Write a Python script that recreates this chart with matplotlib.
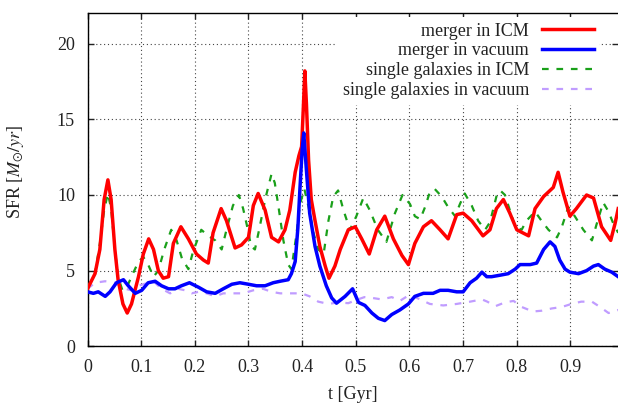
import numpy as np
import matplotlib
matplotlib.use('Agg')
import matplotlib.pyplot as plt

plt.rcParams['font.family'] = ['Liberation Serif', 'DejaVu Serif']
plt.rcParams['mathtext.fontset'] = 'stix'
plt.rcParams['font.size'] = 13

# merger in ICM
t_merger_icm = [0.000, 0.014, 0.023, 0.031, 0.038, 0.044, 0.051, 0.057, 0.066, 0.074,
                0.082, 0.095, 0.104, 0.114, 0.123, 0.132, 0.141, 0.151, 0.160, 0.174,
                0.188, 0.203, 0.216, 0.225, 0.234, 0.249, 0.259, 0.275, 0.287, 0.300,
                0.309, 0.318, 0.331, 0.343, 0.356, 0.368, 0.377, 0.387, 0.394, 0.399,
                0.402, 0.405, 0.408, 0.412, 0.417, 0.424, 0.433, 0.443, 0.450, 0.461,
                0.471, 0.486, 0.499, 0.511, 0.525, 0.539, 0.554, 0.570, 0.586, 0.598,
                0.610, 0.626, 0.641, 0.657, 0.672, 0.688, 0.700, 0.716, 0.737, 0.750,
                0.762, 0.775, 0.787, 0.800, 0.822, 0.834, 0.850, 0.868, 0.877, 0.886,
                0.899, 0.911, 0.930, 0.943, 0.958, 0.975, 0.983, 0.989]
sfr_merger_icm = [3.8, 4.8, 6.4, 9.7, 11.0, 9.7, 6.4, 4.4, 2.8, 2.2,
                  2.8, 4.6, 6.1, 7.1, 6.4, 5.0, 4.5, 4.6, 6.8, 7.9,
                  7.1, 6.1, 5.7, 5.5, 7.5, 9.1, 8.3, 6.5, 6.7, 7.2,
                  9.3, 10.1, 9.0, 7.2, 6.9, 7.7, 9.0, 11.5, 12.6, 13.2,
                  15.6, 18.2, 16.0, 12.3, 9.7, 8.3, 6.6, 5.3, 4.5, 5.3,
                  6.4, 7.7, 7.9, 7.1, 6.1, 7.7, 8.6, 7.1, 6.0, 5.4,
                  6.8, 7.9, 8.3, 7.7, 7.1, 8.7, 8.8, 8.3, 7.3, 7.7,
                  9.1, 9.7, 8.8, 7.7, 7.3, 9.1, 9.9, 10.5, 11.5, 10.2,
                  8.6, 9.1, 10.0, 9.8, 7.9, 7.0, 8.1, 9.1]

# merger in vacuum
t_merger_vac = [0.000, 0.011, 0.020, 0.033, 0.042, 0.054, 0.067, 0.076, 0.089, 0.101,
                0.113, 0.126, 0.138, 0.151, 0.163, 0.175, 0.190, 0.207, 0.222, 0.238,
                0.253, 0.269, 0.284, 0.300, 0.315, 0.331, 0.346, 0.359, 0.374, 0.380,
                0.387, 0.392, 0.396, 0.400, 0.403, 0.408, 0.414, 0.424, 0.433, 0.445,
                0.455, 0.464, 0.480, 0.494, 0.505, 0.517, 0.530, 0.542, 0.554, 0.567,
                0.582, 0.598, 0.610, 0.626, 0.644, 0.657, 0.672, 0.688, 0.700, 0.713,
                0.725, 0.735, 0.744, 0.753, 0.769, 0.784, 0.797, 0.806, 0.825, 0.837,
                0.850, 0.862, 0.871, 0.880, 0.890, 0.899, 0.915, 0.930, 0.943, 0.952,
                0.964, 0.977, 0.989]
sfr_merger_vac = [3.6, 3.5, 3.6, 3.3, 3.6, 4.2, 4.4, 4.0, 3.5, 3.7,
                  4.2, 4.3, 4.0, 3.8, 3.8, 4.0, 4.2, 3.9, 3.6, 3.5,
                  3.8, 4.1, 4.2, 4.1, 4.0, 4.0, 4.2, 4.3, 4.4, 4.8,
                  5.6, 7.8, 10.5, 13.0, 14.1, 11.6, 8.8, 6.6, 5.3, 4.0,
                  3.2, 2.85, 3.3, 3.8, 2.9, 2.7, 2.2, 1.85, 1.7, 2.1,
                  2.4, 2.8, 3.3, 3.5, 3.5, 3.7, 3.7, 3.6, 3.6, 4.2,
                  4.5, 4.9, 4.6, 4.6, 4.7, 4.8, 5.1, 5.4, 5.4, 5.5,
                  6.4, 6.9, 6.6, 5.7, 5.1, 4.9, 4.8, 5.0, 5.3, 5.4,
                  5.1, 4.9, 4.6]

# single galaxies in ICM
t_single_icm = [0.000, 0.014, 0.023, 0.031, 0.038, 0.044, 0.051, 0.057, 0.065, 0.072,
                0.082, 0.095, 0.104, 0.113, 0.123, 0.132, 0.143, 0.156, 0.166, 0.176,
                0.188, 0.197, 0.212, 0.225, 0.238, 0.250, 0.259, 0.271, 0.282, 0.290,
                0.297, 0.305, 0.312, 0.321, 0.331, 0.343, 0.349, 0.356, 0.365, 0.374,
                0.380, 0.389, 0.396, 0.404, 0.412, 0.421, 0.430, 0.440, 0.449, 0.458,
                0.467, 0.477, 0.489, 0.501, 0.514, 0.526, 0.541, 0.557, 0.573, 0.587,
                0.601, 0.610, 0.620, 0.629, 0.638, 0.647, 0.660, 0.672, 0.685, 0.694,
                0.703, 0.716, 0.728, 0.741, 0.750, 0.762, 0.769, 0.778, 0.787, 0.797,
                0.809, 0.818, 0.834, 0.846, 0.859, 0.875, 0.884, 0.896, 0.908, 0.924,
                0.940, 0.949, 0.961, 0.971, 0.980, 0.989]
sfr_single_icm = [3.9, 4.8, 6.8, 9.0, 10.1, 9.1, 6.4, 4.6, 3.7, 3.8,
                  4.6, 5.6, 5.9, 5.4, 4.6, 5.0, 6.4, 7.7, 7.0, 5.8,
                  5.1, 6.3, 7.7, 7.3, 7.0, 6.4, 7.7, 9.3, 10.0, 9.1,
                  8.0, 6.6, 6.4, 7.9, 9.7, 11.4, 10.8, 9.2, 7.0, 5.4,
                  5.1, 7.3, 9.4, 10.4, 9.2, 7.5, 6.4, 6.1, 8.3, 9.9,
                  10.3, 9.0, 7.7, 8.6, 9.8, 9.0, 7.7, 6.9, 8.8, 10.0,
                  9.4, 8.6, 8.4, 9.2, 10.2, 10.4, 9.9, 9.2, 8.6, 9.4,
                  10.1, 9.3, 8.3, 7.7, 8.2, 9.9, 10.3, 10.0, 9.0, 7.9,
                  7.7, 8.3, 8.9, 8.3, 7.7, 7.2, 7.9, 9.2, 8.6, 7.7,
                  7.0, 8.1, 9.5, 8.9, 8.1, 7.5]

# single galaxies in vacuum
t_single_vac = [0.000, 0.014, 0.033, 0.051, 0.070, 0.082, 0.095, 0.113, 0.126, 0.138,
                0.154, 0.169, 0.182, 0.194, 0.207, 0.222, 0.238, 0.253, 0.272, 0.290,
                0.309, 0.327, 0.343, 0.359, 0.377, 0.390, 0.399, 0.414, 0.430, 0.449,
                0.467, 0.486, 0.504, 0.516, 0.530, 0.548, 0.567, 0.582, 0.600, 0.620,
                0.638, 0.663, 0.688, 0.713, 0.735, 0.745, 0.760, 0.778, 0.794, 0.809,
                0.830, 0.846, 0.865, 0.884, 0.902, 0.920, 0.940, 0.955, 0.971, 0.989]
sfr_single_vac = [3.8, 4.2, 4.3, 4.2, 3.8, 3.7, 4.0, 4.2, 4.2, 3.8,
                  3.5, 3.8, 3.7, 3.5, 3.6, 3.5, 3.3, 3.5, 3.5, 3.5,
                  3.7, 3.8, 3.6, 3.5, 3.5, 3.5, 3.5, 3.3, 2.95, 2.8,
                  2.9, 2.85, 3.1, 3.25, 3.2, 3.1, 3.25, 3.0, 3.4, 3.1,
                  2.8, 2.7, 2.8, 2.95, 3.1, 2.95, 2.65, 2.9, 3.0, 2.6,
                  2.3, 2.35, 2.5, 2.6, 2.8, 2.95, 2.95, 2.6, 2.2, 2.4]

xticks = [0, 0.1, 0.2, 0.3, 0.4, 0.5, 0.6, 0.7, 0.8, 0.9]
xtick_labels = ['0', '0.1', '0.2', '0.3', '0.4', '0.5', '0.6', '0.7', '0.8', '0.9']
yticks = [0, 5, 10, 15, 20]

fig = plt.figure(figsize=(6.18, 4.03), dpi=100)
ax = fig.add_axes([0.1416, 0.1407, 0.8584, 0.826])

ax.plot(t_merger_icm, sfr_merger_icm, '-', color='#ff0000', lw=2.5, label='merger in ICM', zorder=4)
ax.plot(t_merger_vac, sfr_merger_vac, '-', color='#0000ff', lw=2.5, label='merger in vacuum', zorder=5)
ax.plot(t_single_icm, sfr_single_icm, '--', color='#1aa01a', lw=1.6, dashes=(3, 3.5),
        label='single galaxies in ICM', zorder=3)
ax.plot(t_single_vac, sfr_single_vac, '--', color='#c09cff', lw=1.6, dashes=(3, 3.5),
        label='single galaxies in vacuum', zorder=2)

ax.set_xlim(0, 0.9886)
ax.set_ylim(0, 22)
ax.set_xticks(xticks)
ax.set_xticklabels(xtick_labels)
ax.set_yticks(yticks)
ax.grid(True, color='#444444', lw=0.8, linestyle=(0, (1, 2.5)))
ax.tick_params(direction='in', length=4, width=1, top=True, right=True, pad=9, colors='#222222')
for s in ax.spines.values():
    s.set_linewidth(1.0)
ax.spines['right'].set_visible(False)

ax.set_xlabel('t [Gyr]', color='#222222', labelpad=7)
ax.set_ylabel(r'SFR [$M_{\odot}/yr$]', color='#222222')
ax.yaxis.set_label_coords(-0.1156, 0.524)

leg = ax.legend(loc='upper right', bbox_to_anchor=(0.9845, 0.980), bbox_transform=fig.transFigure,
                markerfirst=False, alignment='right', frameon=True, facecolor='white',
                edgecolor='none', framealpha=1, fancybox=False, borderpad=0.3,
                handlelength=2.9, handletextpad=0.7, labelspacing=0.165)
leg.set_zorder(10)
for txt in leg.get_texts():
    txt.set_color('#222222')

fig.savefig('out.png', dpi=100)
